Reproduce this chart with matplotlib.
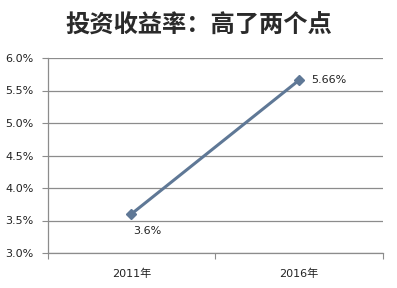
import matplotlib.pyplot as plt

plt.rcParams['font.family'] = ['DejaVu Sans', 'Noto Sans CJK SC']

years = ['2011年', '2016年']
rates = [3.6, 5.66]
labels = ['3.6%', '5.66%']
yticks = [3.0, 3.5, 4.0, 4.5, 5.0, 5.5, 6.0]

fig = plt.figure(figsize=(3.97, 2.88), dpi=100)
ax = fig.add_axes([47.5 / 397, 1 - 253 / 288, 335.5 / 397, 195 / 288])

x = [0.5, 1.5]
ax.plot(x, rates, color='#5f7896', linewidth=2.2, marker='D', markersize=5,
        markerfacecolor='#5f7896', markeredgecolor='#5f7896')

ax.annotate(labels[0], (x[0], rates[0]), xytext=(1, -9), textcoords='offset points',
            ha='left', va='top', fontsize=8, color='#222222')
ax.annotate(labels[1], (x[1], rates[1]), xytext=(9, 0), textcoords='offset points',
            ha='left', va='center', fontsize=8, color='#222222')

ax.set_xlim(0, 2)
ax.set_ylim(3.0, 6.0)
ax.set_yticks(yticks)
ax.set_yticklabels(['%.1f%%' % v for v in yticks], fontsize=8, color='#222222')
ax.yaxis.grid(True, color='#8c8c8c', linewidth=0.9)
ax.set_axisbelow(True)

ax.set_xticks([0, 1, 2])
ax.set_xticklabels([])
ax.set_xticks(x, minor=True)
ax.set_xticklabels(years, minor=True, fontsize=8, color='#222222',
                   family=['DejaVu Sans', 'Noto Sans CJK SC'])
ax.tick_params(axis='x', which='minor', length=0, pad=11)
ax.tick_params(axis='x', which='major', length=4, direction='out', color='#8c8c8c')
ax.tick_params(axis='y', length=4, direction='out', color='#8c8c8c', pad=6)

for s in ['top', 'right']:
    ax.spines[s].set_visible(False)
for s in ['left', 'bottom']:
    ax.spines[s].set_color('#8c8c8c')
    ax.spines[s].set_linewidth(0.9)

fig.text(0.5, 1 - 25 / 288, '投资收益率：高了两个点', ha='center', va='center',
         fontsize=17.5, fontweight='bold', color='#2a2a2a', family=['Noto Sans CJK SC'])

fig.savefig('out.png', dpi=100)
